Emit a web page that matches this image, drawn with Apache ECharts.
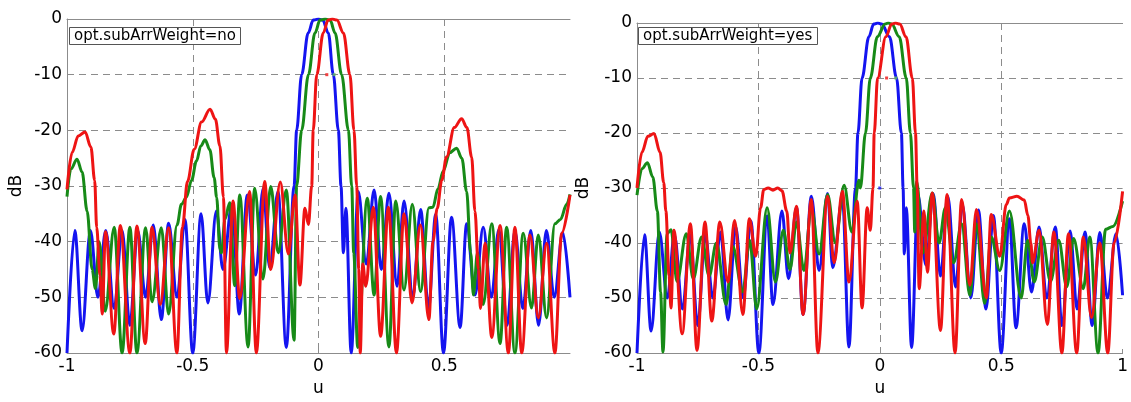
<!DOCTYPE html>
<html><head><meta charset="utf-8">
<script src="https://cdn.jsdelivr.net/npm/echarts@6/dist/echarts.min.js"></script>
<style>html,body{margin:0;padding:0;background:#fff;}#c{width:1131px;height:402px;}</style>
</head><body><div id="c"></div>
<script>
// axis ranges / ticks
const uRange = [-1, 1], uStep = 0.5;
const dbRange = [-60, 0], dbStep = 10;
const panelLabels = ['opt.subArrWeight=no', 'opt.subArrWeight=yes'];

// LEFT panel (no sub-array weighting) : [u, dB]
const noBlue = [[-1.0,-60],[-0.969,-38],[-0.94,-56],[-0.907,-38],[-0.877,-50],[-0.846,-38],[-0.8125,-52],[-0.781,-38],[-0.75,-55],[-0.719,-38],[-0.6875,-50],[-0.657,-37],[-0.625,-54],[-0.596,-36.7],[-0.5625,-50],[-0.531,-36],[-0.5,-60],[-0.467,-35],[-0.44,-51],[-0.406,-34.5],[-0.38,-45],[-0.344,-33.3],[-0.315,-53],[-0.283,-31.6],[-0.25,-46],[-0.22,-30.4],[-0.194,-44.7],[-0.161,-31],[-0.128,-59],[-0.097,-30],[-0.087,-20],[-0.067,-10],[-0.041,-2.5],[-0.021,-0.2],[0,0],[0.017,-0.2],[0.039,-2.5],[0.059,-10],[0.079,-20],[0.0895,-30],[0.099,-42],[0.109,-34],[0.13,-60],[0.158,-31],[0.19,-44],[0.221,-30.7],[0.25,-45],[0.28,-31.3],[0.3125,-48],[0.34,-32.7],[0.375,-50],[0.406,-34.2],[0.4375,-52],[0.466,-35.1],[0.497,-60],[0.529,-35.6],[0.563,-55.4],[0.589,-36.8],[0.622,-49.6],[0.655,-37.4],[0.6875,-50],[0.717,-37.8],[0.75,-55],[0.781,-38],[0.8125,-52],[0.844,-38],[0.875,-55],[0.906,-38],[0.9375,-50],[0.971,-38.3],[1.0,-50]];
const noGreen = [[-1.0,-31.9],[-0.985,-27],[-0.96,-25.2],[-0.94,-27.5],[-0.92,-34.5],[-0.9,-45],[-0.887,-48.4],[-0.872,-40],[-0.848,-52.5],[-0.8125,-37.4],[-0.781,-60],[-0.75,-37.4],[-0.722,-60],[-0.6875,-37.5],[-0.662,-50.8],[-0.625,-37.5],[-0.596,-53],[-0.5625,-37],[-0.545,-33.3],[-0.525,-32],[-0.505,-29],[-0.485,-25.5],[-0.468,-22.8],[-0.451,-21.7],[-0.432,-23.5],[-0.415,-28.5],[-0.405,-32],[-0.392,-41.4],[-0.386,-42],[-0.372,-36],[-0.353,-33],[-0.333,-47.9],[-0.313,-31.6],[-0.28,-58.9],[-0.254,-30.4],[-0.221,-46.7],[-0.19,-30.1],[-0.16,-42],[-0.128,-30.7],[-0.097,-57.7],[-0.087,-30],[-0.067,-20],[-0.04,-10],[-0.014,-2.5],[0.006,-0.2],[0.026,0],[0.046,-0.2],[0.066,-2.5],[0.092,-10],[0.119,-20],[0.132,-30],[0.14,-42],[0.156,-59],[0.194,-32.2],[0.221,-49.6],[0.247,-31.9],[0.28,-58.9],[0.307,-32.7],[0.34,-48.7],[0.373,-33.3],[0.406,-49],[0.439,-33.9],[0.455,-33.8],[0.475,-30.5],[0.496,-27.3],[0.522,-24],[0.549,-23.2],[0.57,-25],[0.589,-31],[0.605,-42],[0.616,-49.6],[0.632,-42],[0.655,-51.3],[0.689,-36.8],[0.722,-58.3],[0.748,-37.4],[0.781,-60],[0.814,-38.5],[0.847,-51.9],[0.874,-38.8],[0.907,-53.7],[0.94,-36.8],[0.962,-36],[0.987,-33.3],[1.0,-31.5]];
const noRed = [[-1.0,-30.6],[-0.98,-24],[-0.955,-21],[-0.928,-20.3],[-0.905,-23],[-0.89,-29],[-0.882,-37.4],[-0.869,-46],[-0.86,-53],[-0.847,-38.2],[-0.814,-56.6],[-0.788,-37.1],[-0.75,-60],[-0.722,-37.2],[-0.689,-58.3],[-0.662,-37.4],[-0.629,-51.3],[-0.596,-37.5],[-0.563,-60],[-0.541,-37.4],[-0.521,-29.2],[-0.494,-23.4],[-0.465,-18.5],[-0.431,-16.2],[-0.41,-18],[-0.392,-22.8],[-0.378,-32],[-0.366,-60],[-0.34,-32.7],[-0.313,-50.2],[-0.274,-31],[-0.247,-60],[-0.214,-29.2],[-0.19,-45],[-0.152,-29.3],[-0.12,-42.2],[-0.093,-31.6],[-0.074,-47.8],[-0.054,-34],[-0.04,-36.9],[-0.027,-30],[-0.021,-20],[-0.007,-10],[0.019,-2.5],[0.038,-0.2],[0.055,0],[0.073,-0.2],[0.099,-2.5],[0.125,-10],[0.141,-20],[0.152,-30],[0.16,-45],[0.166,-60],[0.176,-44],[0.188,-48],[0.218,-33.8],[0.247,-57],[0.278,-33.8],[0.31,-60],[0.34,-35],[0.372,-51],[0.405,-37],[0.439,-54],[0.455,-40],[0.472,-34],[0.49,-29],[0.509,-24.8],[0.54,-19.5],[0.569,-17.9],[0.59,-19.5],[0.609,-24.8],[0.622,-34.5],[0.636,-45],[0.644,-52],[0.662,-40.3],[0.689,-57.2],[0.722,-37.1],[0.755,-60],[0.781,-37.4],[0.808,-60],[0.841,-38.8],[0.874,-53.7],[0.907,-40.3],[0.94,-60],[0.967,-38.5],[1.0,-31.6]];

// RIGHT panel (sub-array weighting) : [u, dB]
const yesBlue = [[-1.0,-60],[-0.969,-38.5],[-0.942,-56],[-0.908,-38],[-0.875,-50],[-0.846,-38.5],[-0.8125,-52],[-0.781,-38.5],[-0.75,-55],[-0.719,-38.5],[-0.6875,-50],[-0.656,-38],[-0.625,-54],[-0.594,-37],[-0.5625,-50],[-0.531,-36],[-0.498,-60],[-0.464,-35.1],[-0.44,-51.2],[-0.403,-34.2],[-0.376,-46.5],[-0.343,-33.5],[-0.316,-53],[-0.282,-31.5],[-0.25,-45],[-0.215,-31],[-0.194,-44.5],[-0.154,-31.8],[-0.127,-58.9],[-0.1,-30],[-0.09,-20],[-0.073,-10],[-0.045,-2.5],[-0.025,-0.2],[-0.008,0],[0.008,-0.2],[0.04,-2.5],[0.069,-10],[0.089,-20],[0.096,-30],[0.101,-42],[0.109,-33.6],[0.131,-59],[0.157,-31.2],[0.19,-44],[0.22,-31],[0.25,-46],[0.28,-31.5],[0.3125,-48],[0.34,-33],[0.375,-50],[0.406,-34],[0.4375,-52],[0.468,-35],[0.5,-60],[0.534,-35.6],[0.561,-55.4],[0.595,-36.5],[0.625,-48.9],[0.656,-37.1],[0.6875,-50],[0.723,-37.1],[0.75,-55],[0.784,-37.8],[0.8125,-52],[0.845,-38],[0.875,-55],[0.906,-38.1],[0.9375,-50],[0.973,-38.3],[1.0,-49.5]];
const yesGreen = [[-1.0,-31.3],[-0.98,-26.5],[-0.957,-25.4],[-0.935,-28],[-0.916,-34.2],[-0.903,-48.9],[-0.893,-59.8],[-0.876,-38.3],[-0.86,-37.6],[-0.835,-47],[-0.797,-38.3],[-0.768,-46.5],[-0.734,-38.9],[-0.703,-46],[-0.673,-40],[-0.633,-51.2],[-0.606,-40.6],[-0.565,-48.9],[-0.536,-39.5],[-0.507,-52],[-0.464,-33.6],[-0.43,-47.1],[-0.397,-37.7],[-0.37,-44.8],[-0.343,-36.2],[-0.312,-45],[-0.282,-33.6],[-0.25,-42],[-0.215,-31.2],[-0.183,-40],[-0.147,-29.5],[-0.115,-38],[-0.086,-28.6],[-0.08,-30],[-0.059,-20],[-0.039,-10],[-0.01,-2.5],[0.022,-0.2],[0.035,0],[0.049,-0.2],[0.08,-2.5],[0.109,-10],[0.126,-20],[0.139,-30],[0.144,-38],[0.152,-28.8],[0.178,-41.8],[0.216,-30.9],[0.244,-40],[0.27,-33.6],[0.304,-43.6],[0.337,-36.5],[0.371,-49.5],[0.398,-36.5],[0.432,-51],[0.459,-38.9],[0.494,-45],[0.534,-34.2],[0.582,-50],[0.609,-39.5],[0.636,-47.1],[0.669,-38.9],[0.703,-47],[0.737,-39.5],[0.77,-48],[0.798,-39.2],[0.838,-48.3],[0.865,-38.9],[0.899,-60],[0.93,-37.5],[0.96,-37],[1.0,-32.4]];
const yesRed = [[-1.0,-30],[-0.98,-23.5],[-0.955,-20.6],[-0.93,-20.1],[-0.905,-23.5],[-0.89,-29],[-0.881,-34.2],[-0.868,-45.9],[-0.86,-51.8],[-0.848,-37.7],[-0.814,-56.5],[-0.78,-36.5],[-0.753,-59.5],[-0.72,-36.2],[-0.692,-54.2],[-0.659,-36.2],[-0.625,-47.1],[-0.598,-35.9],[-0.564,-53],[-0.537,-35.6],[-0.511,-42.4],[-0.491,-33.6],[-0.478,-30.3],[-0.46,-30],[-0.44,-30.4],[-0.42,-30],[-0.403,-30.5],[-0.383,-34.2],[-0.37,-41.8],[-0.343,-33.3],[-0.316,-53],[-0.282,-32.1],[-0.255,-60],[-0.215,-31.5],[-0.188,-43.6],[-0.154,-30.6],[-0.127,-47.1],[-0.093,-32.4],[-0.073,-51.8],[-0.052,-33.6],[-0.039,-37.7],[-0.028,-30],[-0.023,-20],[-0.009,-10],[0.025,-2.5],[0.049,-0.2],[0.065,0],[0.082,-0.2],[0.108,-2.5],[0.134,-10],[0.147,-20],[0.154,-30],[0.162,-48.3],[0.182,-34.2],[0.196,-45.3],[0.216,-30.9],[0.25,-55.9],[0.277,-31.2],[0.31,-60],[0.337,-32.1],[0.371,-47.7],[0.398,-33.9],[0.439,-50],[0.459,-34.8],[0.494,-42.4],[0.521,-33],[0.534,-31.8],[0.565,-31.5],[0.595,-32.2],[0.61,-35],[0.622,-40],[0.629,-43.6],[0.656,-37.7],[0.69,-54.8],[0.717,-38],[0.75,-60],[0.777,-38.3],[0.811,-60],[0.838,-38.9],[0.872,-53.6],[0.906,-40],[0.939,-60],[0.965,-40],[1.0,-30.6]];

// small stray markers visible in the reference
const noMarks = {red:[[0.033,-10]], green:[[0.062,-10]], blue:[]};
const yesMarks = {red:[[0.028,-10]], green:[[0.066,-10]], blue:[[0.0,-30]]};

const FONT = 'DejaVu Sans';
const AX = '#8c8c8c';
const COLORS = {blue:'#1414f0', green:'#178a17', red:'#ee1414'};

const chart = echarts.init(document.getElementById('c'), null, {renderer:'canvas'});

function bottomX(gi, showMax){
  return {type:'value', gridIndex:gi, min:uRange[0], max:uRange[1], interval:uStep,
    name:'u', nameLocation:'middle', nameGap:27,
    nameTextStyle:{fontFamily:FONT, fontSize:17, color:'#000'},
    axisLine:{onZero:false, lineStyle:{color:AX, width:1}},
    axisTick:{inside:true, length:4, lineStyle:{color:AX}},
    axisLabel:{margin:5, fontFamily:FONT, fontSize:17, color:'#000', showMaxLabel:showMax},
    splitLine:{show:true, showMinLine:false, showMaxLine:false, lineStyle:{color:AX, width:1, type:[7,5]}}};
}
function topX(gi){
  return {type:'value', gridIndex:gi, position:'top', min:uRange[0], max:uRange[1],
    axisLine:{show:true, onZero:false, lineStyle:{color:AX, width:1}},
    axisTick:{show:false}, axisLabel:{show:false}, splitLine:{show:false}};
}
function leftY(gi, gap){
  return {type:'value', gridIndex:gi, min:dbRange[0], max:dbRange[1], interval:dbStep,
    name:'dB', nameLocation:'middle', nameGap:gap, nameRotate:90,
    nameTextStyle:{fontFamily:FONT, fontSize:17, color:'#000'},
    axisLine:{show:true, onZero:false, lineStyle:{color:AX, width:1}},
    axisTick:{inside:true, length:4, lineStyle:{color:AX}},
    axisLabel:{margin:5, fontFamily:FONT, fontSize:17, color:'#000'},
    splitLine:{show:true, showMinLine:false, showMaxLine:false, lineStyle:{color:AX, width:1, type:[7,5]}}};
}
function line(data, color, xi, yi, z){
  return {type:'line', data, xAxisIndex:xi, yAxisIndex:yi, showSymbol:false, smooth:0.35, smoothMonotone:'x',
    lineStyle:{width:3, color}, itemStyle:{color}, z, silent:true, clip:true};
}
function dots(data, color, xi, yi){
  return {type:'scatter', data, xAxisIndex:xi, yAxisIndex:yi, symbol:'rect', symbolSize:[3,3],
    itemStyle:{color}, z:5, silent:true};
}
function box(text, left, top){
  return {text, left, top, padding:[1,5,1,5], borderColor:'#555', borderWidth:1, backgroundColor:'#fff',
    textStyle:{fontFamily:FONT, fontSize:15, fontWeight:'normal', color:'#000', lineHeight:16}};
}

chart.setOption({
  animation:false,
  backgroundColor:'#fff',
  title:[box(panelLabels[0], 69, 27), box(panelLabels[1], 638, 27)],
  grid:[{left:67, top:19, width:503, height:344}, {left:637, top:23, width:494, height:340}],
  xAxis:[bottomX(0,false), bottomX(1,true), topX(0), topX(1)],
  yAxis:[leftY(0,42), leftY(1,45)],
  series:[
    line(noBlue, COLORS.blue, 0, 0, 2), line(noGreen, COLORS.green, 0, 0, 3), line(noRed, COLORS.red, 0, 0, 4),
    line(yesBlue, COLORS.blue, 1, 1, 2), line(yesGreen, COLORS.green, 1, 1, 3), line(yesRed, COLORS.red, 1, 1, 4),
    dots(noMarks.red, COLORS.red, 0, 0), dots(noMarks.green, '#5fbf5f', 0, 0),
    dots(yesMarks.red, COLORS.red, 1, 1), dots(yesMarks.green, '#5fbf5f', 1, 1), dots(yesMarks.blue, COLORS.blue, 1, 1)
  ]
});
</script></body></html>
